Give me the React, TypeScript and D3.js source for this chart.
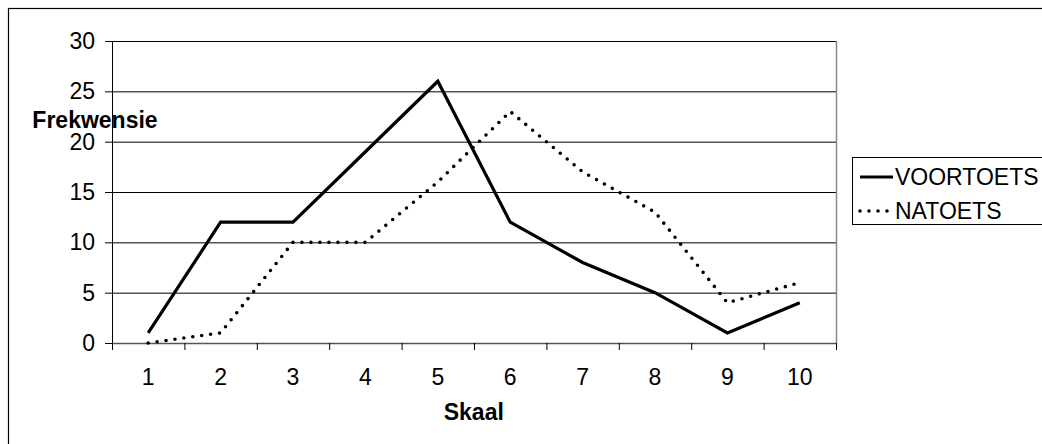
import React from "react";
import * as d3 from "d3";

const categories = ["1", "2", "3", "4", "5", "6", "7", "8", "9", "10"];
const voortoets = [1, 12, 12, 19, 26, 12, 8, 5, 1, 4];
const natoets = [0, 1, 10, 10, 16, 23, 17, 13, 4, 6];
const yTicks = [0, 5, 10, 15, 20, 25, 30];
const seriesNames = ["VOORTOETS", "NATOETS"];

const W = 1042;
const H = 444;
const plot = { left: 112, right: 836, top: 41, bottom: 343 };
const FONT = "'Liberation Sans', Arial, sans-serif";

export default function App() {
  const x = d3
    .scaleBand<string>()
    .domain(categories)
    .range([plot.left, plot.right])
    .paddingInner(0)
    .paddingOuter(0);
  const y = d3.scaleLinear().domain([0, 30]).range([plot.bottom, plot.top]);
  const cx = (c: string) => (x(c) as number) + x.bandwidth() / 2;

  const line = d3
    .line<number>()
    .x((_, i) => cx(categories[i]))
    .y((d) => y(d));

  const boundaries = categories.map((c) => x(c) as number).concat([plot.right]);

  return (
    <svg
      width={W}
      height={H}
      style={{ position: "absolute", left: 0, top: 0, background: "#fff" }}
      fontFamily={FONT}
    >
      <rect x={0} y={0} width={W} height={H} fill="#fff" />
      {/* outer chart border (extends beyond right/bottom) */}
      <rect x={8.5} y={8.5} width={1200} height={600} fill="none" stroke="#000" strokeWidth={1.2} />

      {/* gridlines */}
      {yTicks.map((t) => (
        <line key={t} x1={plot.left} x2={plot.right} y1={y(t) + 0.5} y2={y(t) + 0.5} stroke="#000" strokeWidth={1} />
      ))}
      {/* plot right border */}
      <line x1={plot.right + 0.5} x2={plot.right + 0.5} y1={plot.top} y2={plot.bottom} stroke="#888" strokeWidth={1.5} />

      {/* y axis */}
      <line x1={plot.left + 0.5} x2={plot.left + 0.5} y1={plot.top} y2={plot.bottom + 1} stroke="#000" strokeWidth={1} />
      {yTicks.map((t) => (
        <g key={"yt" + t}>
          <line x1={plot.left - 7} x2={plot.left} y1={y(t) + 0.5} y2={y(t) + 0.5} stroke="#000" />
          <text x={95} y={y(t) + 8} textAnchor="end" fontSize={23} fill="#000">
            {t}
          </text>
        </g>
      ))}

      {/* x axis */}
      <line x1={plot.left} x2={plot.right} y1={plot.bottom + 0.5} y2={plot.bottom + 0.5} stroke="#555" strokeWidth={1.5} />
      {boundaries.map((b, i) => (
        <line key={"xt" + i} x1={b + 0.5} x2={b + 0.5} y1={plot.bottom} y2={plot.bottom + 7} stroke="#000" />
      ))}
      {categories.map((c) => (
        <text key={"xl" + c} x={cx(c)} y={385} textAnchor="middle" fontSize={23} fill="#000">
          {c}
        </text>
      ))}

      {/* axis titles */}
      <text x={95} y={128} textAnchor="middle" fontSize={23} fontWeight="bold" fill="#000">
        Frekwensie
      </text>
      <text x={cx("5") + 36} y={420} textAnchor="middle" fontSize={23} fontWeight="bold" fill="#000">
        Skaal
      </text>

      {/* series */}
      <path d={line(natoets) || ""} fill="none" stroke="#000" strokeWidth={3.6} strokeDasharray="0 9" strokeLinecap="round" />
      <path d={line(voortoets) || ""} fill="none" stroke="#000" strokeWidth={3.2} strokeLinejoin="miter" />

      {/* legend */}
      <rect x={852.5} y={157.5} width={300} height={67} fill="#fff" stroke="#000" strokeWidth={1} />
      <line x1={860} x2={893} y1={177} y2={177} stroke="#000" strokeWidth={3.2} />
      <text x={895} y={185} fontSize={23} fill="#000">
        {seriesNames[0]}
      </text>
      <line x1={860} x2={893} y1={211} y2={211} stroke="#000" strokeWidth={3.6} strokeDasharray="0 9" strokeLinecap="round" />
      <text x={895} y={219} fontSize={23} fill="#000">
        {seriesNames[1]}
      </text>
    </svg>
  );
}
